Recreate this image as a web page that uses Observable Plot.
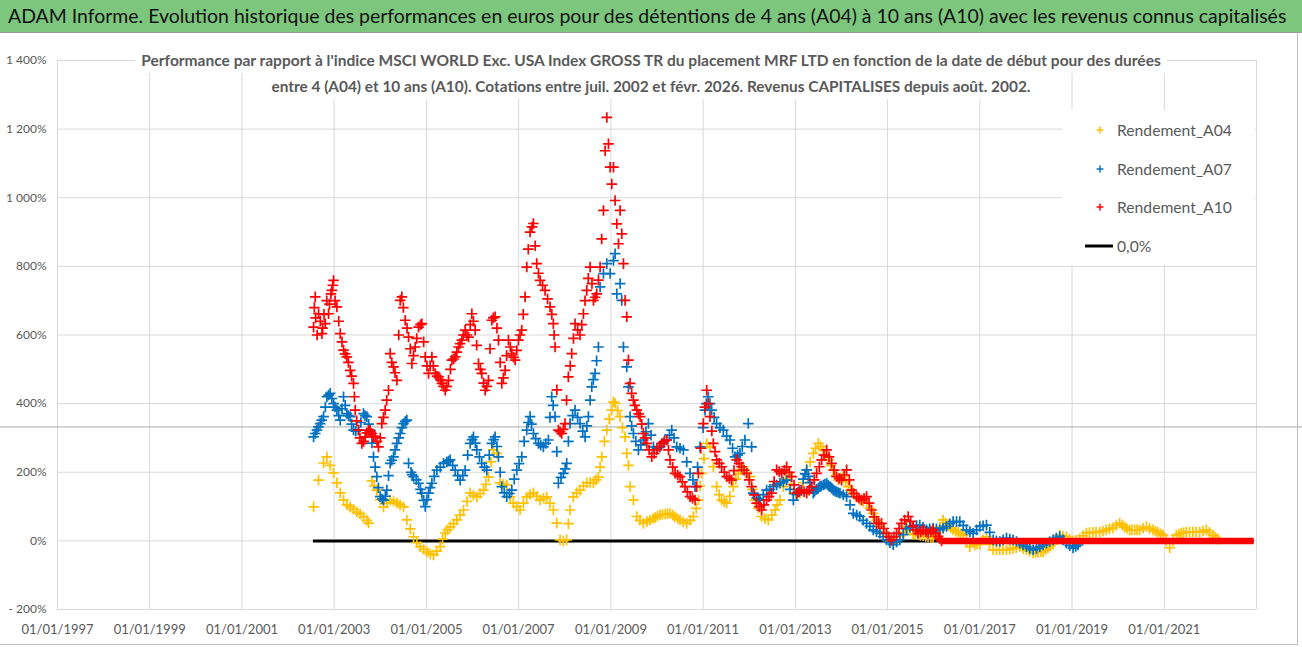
<!DOCTYPE html>
<html><head><meta charset="utf-8">
<script src="https://cdn.jsdelivr.net/npm/d3@7"></script>
<script src="https://cdn.jsdelivr.net/npm/@observablehq/plot@0.6"></script>
<style>
body{margin:0;background:#fff;font-family:Lato,"Open Sans",sans-serif;}
#wrap{position:relative;width:1302px;height:647px;overflow:hidden;background:#fff;}
#title{box-sizing:border-box;height:33px;background:#7DC67E;border-bottom:1px solid #9a9a9a;line-height:32px;padding-left:8px;color:#111;white-space:nowrap;}
#title span{font-size:20px;}
#frame{position:absolute;left:0;top:33px;width:1297px;height:611px;border-right:1px solid #bfbfbf;border-bottom:1px solid #bfbfbf;pointer-events:none;}
#sub{position:absolute;top:47px;left:0;width:1302px;text-align:center;}
#sub span{display:inline-block;background:#fff;color:#595959;font-weight:bold;font-size:16px;line-height:25px;padding:0 6px;white-space:nowrap;}
#legend{position:absolute;left:1062px;top:110px;width:193px;height:155px;background:#fff;}
.li{position:absolute;left:0;height:30px;width:193px;}
.li .tx{position:absolute;left:55px;top:0;font-size:18px;line-height:30px;color:#595959;white-space:nowrap;}
</style></head>
<body>
<div id="wrap">
  <div id="title"><span></span></div>
  <div id="chart"></div>
  <div id="sub"></div>
  <div id="legend"></div>
  <div id="frame"></div>
</div>
<script>
const titleText = "ADAM Informe. Evolution historique des performances en euros pour des détentions de 4 ans (A04) à 10 ans (A10) avec les revenus connus capitalisés";
const subtitleLines = [
  "Performance par rapport à l'indice MSCI WORLD Exc. USA Index GROSS TR  du placement MRF LTD en fonction de la date de début pour des durées",
  "entre 4 (A04) et 10 ans (A10).  Cotations entre juil. 2002 et févr. 2026. Revenus CAPITALISES depuis août. 2002."
];
const seriesNames = ["Rendement_A04", "Rendement_A07", "Rendement_A10"];
const seriesColors = ["#FFC000", "#0070C0", "#FF0000"];
const zeroLabel = "0,0%";
const yTicks = [-200, 0, 200, 400, 600, 800, 1000, 1200, 1400];
const xTickYears = [1997, 1999, 2001, 2003, 2005, 2007, 2009, 2011, 2013, 2015, 2017, 2019, 2021];
const xDomainYears = [1997, 2023];
const strayLine = [332];
// [start date (decimal year), performance %] (scatter, order irrelevant)
const a04 = [[2002.554,99],[2002.662,177],[2002.771,227],[2002.843,245],[2002.915,220],[2002.987,198],[2003.060,169],[2003.132,140],[2003.204,119],[2003.276,105],[2003.348,99],[2003.420,92],[2003.493,84],[2003.565,78],[2003.637,70],[2003.710,60],[2003.746,52],[2003.818,175],[2003.870,160],[2003.926,148],[2004.000,120],[2004.071,99],[2004.143,110],[2004.215,119],[2004.290,115],[2004.360,110],[2004.430,105],[2004.504,99],[2004.576,61],[2004.650,35],[2004.721,12],[2004.795,-5],[2004.865,-17],[2004.940,-25],[2005.010,-32],[2005.080,-38],[2005.154,-41],[2005.225,-30],[2005.298,-17],[2005.350,5],[2005.407,23],[2005.460,32],[2005.515,41],[2005.590,50],[2005.660,61],[2005.730,75],[2005.804,90],[2005.880,115],[2005.949,140],[2006.020,133],[2006.093,128],[2006.165,138],[2006.237,148],[2006.290,165],[2006.346,186],[2006.400,230],[2006.454,265],[2006.527,255],[2006.599,169],[2006.670,165],[2006.743,163],[2006.816,128],[2006.888,110],[2006.960,100],[2007.032,90],[2007.105,110],[2007.177,128],[2007.250,135],[2007.321,140],[2007.395,130],[2007.466,119],[2007.540,124],[2007.610,128],[2007.680,110],[2007.754,90],[2007.827,52],[2007.899,3],[2007.971,0],[2008.043,3],[2008.080,50],[2008.116,90],[2008.188,128],[2008.260,140],[2008.332,148],[2008.405,160],[2008.477,169],[2008.550,170],[2008.621,169],[2008.680,178],[2008.730,186],[2008.766,215],[2008.802,245],[2008.860,290],[2008.910,323],[2008.965,355],[2009.018,381],[2009.055,405],[2009.091,401],[2009.145,380],[2009.199,362],[2009.250,330],[2009.307,303],[2009.344,255],[2009.380,220],[2009.416,158],[2009.489,119],[2009.561,71],[2009.630,60],[2009.705,51],[2009.780,56],[2009.850,61],[2009.960,68],[2010.066,76],[2010.180,78],[2010.283,80],[2010.390,70],[2010.500,61],[2010.570,55],[2010.644,51],[2010.720,60],[2010.789,71],[2010.850,95],[2010.897,119],[2010.935,160],[2010.969,197],[2011.020,240],[2011.078,284],[2011.150,274],[2011.222,216],[2011.294,158],[2011.350,135],[2011.403,119],[2011.511,110],[2011.580,130],[2011.656,158],[2011.710,180],[2011.764,197],[2011.872,216],[2011.950,200],[2012.017,187],[2012.070,150],[2012.125,119],[2012.200,95],[2012.270,71],[2012.340,65],[2012.414,61],[2012.490,75],[2012.558,90],[2012.610,105],[2012.667,119],[2012.739,158],[2012.847,197],[2012.900,165],[2012.956,139],[2013.030,139],[2013.100,139],[2013.170,170],[2013.245,207],[2013.320,230],[2013.389,255],[2013.497,284],[2013.606,265],[2013.714,236],[2013.822,207],[2013.931,178],[2014.039,187],[2014.148,158],[2014.256,139],[2014.330,128],[2014.400,119],[2014.545,110],[2014.620,95],[2014.689,80],[2014.760,60],[2014.834,42],[2014.905,25],[2014.978,13],[2015.050,0],[2015.123,-7],[2015.195,3],[2015.267,13],[2015.340,25],[2015.411,42],[2015.480,30],[2015.555,20],[2015.660,18],[2015.772,15],[2015.880,12],[2015.989,10],[2016.060,25],[2016.133,40],[2016.205,61],[2016.310,45],[2016.422,32],[2016.530,25],[2016.639,17],[2016.710,0],[2016.783,-17],[2016.890,-12],[2017.000,-9],[2017.070,3],[2017.144,12],[2017.210,-10],[2017.289,-26],[2017.430,-26],[2017.578,-26],[2017.720,-22],[2017.867,-17],[2018.010,-26],[2018.156,-35],[2018.260,-33],[2018.372,-32],[2018.480,-20],[2018.589,-9],[2018.660,5],[2018.733,17],[2018.800,14],[2018.878,12],[2018.950,5],[2019.022,0],[2019.090,2],[2019.167,5],[2019.240,15],[2019.311,23],[2019.450,25],[2019.600,26],[2019.740,32],[2019.889,38],[2019.960,45],[2020.033,52],[2020.140,40],[2020.250,32],[2020.360,32],[2020.467,32],[2020.540,37],[2020.611,41],[2020.680,36],[2020.756,32],[2020.860,25],[2020.972,17],[2021.040,0],[2021.117,-20],[2021.190,0],[2021.261,17],[2021.370,22],[2021.478,26],[2021.620,26],[2021.767,26],[2021.840,29],[2021.911,32],[2021.980,25],[2022.056,17],[2022.110,10],[2022.164,5],
  [2009.91,65],[2010.01,72],[2010.12,77],[2010.23,79],[2010.34,75],[2010.45,65],[2011.46,114],[2011.82,207],[2012.79,180],[2013.44,270],[2013.55,275],[2013.66,250],[2013.77,220],[2013.88,190],[2013.99,183],[2014.09,172],[2014.20,148],[2014.47,115],[2015.60,19],[2015.71,16],[2015.83,13],[2015.94,11],[2016.26,53],[2016.37,38],[2016.48,28],[2016.58,21],[2016.94,-10],[2017.36,-26],[2017.50,-26],[2017.65,-24],[2017.79,-20],[2017.94,-22],[2018.08,-30],[2018.21,-34],[2018.32,-32],[2018.43,-26],[2018.53,-15],[2019.38,24],[2019.52,25],[2019.67,29],[2019.81,35],[2020.09,46],[2020.19,36],[2020.30,32],[2020.41,32],[2020.81,28],[2020.92,21],[2021.32,20],[2021.42,24],[2021.55,26],[2021.69,26]];
const a07 = [[2002.554,303],[2002.626,323],[2002.698,342],[2002.771,362],[2002.843,420],[2002.915,430],[2002.987,400],[2003.060,381],[2003.132,352],[2003.204,420],[2003.276,371],[2003.348,362],[2003.421,323],[2003.529,323],[2003.637,371],[2003.710,362],[2003.782,323],[2003.854,245],[2003.926,187],[2003.999,129],[2004.071,119],[2004.143,148],[2004.215,226],[2004.288,245],[2004.360,284],[2004.432,313],[2004.504,342],[2004.576,352],[2004.613,226],[2004.667,200],[2004.721,187],[2004.829,168],[2004.901,139],[2004.974,100],[2005.046,139],[2005.118,168],[2005.226,206],[2005.300,215],[2005.371,226],[2005.443,230],[2005.515,236],[2005.624,206],[2005.732,177],[2005.840,206],[2005.895,250],[2005.949,284],[2006.021,303],[2006.093,265],[2006.201,226],[2006.310,206],[2006.364,250],[2006.418,284],[2006.490,303],[2006.563,245],[2006.600,200],[2006.635,158],[2006.743,129],[2006.852,148],[2006.905,180],[2006.960,206],[2007.068,245],[2007.120,290],[2007.177,323],[2007.249,362],[2007.321,313],[2007.429,284],[2007.538,274],[2007.646,294],[2007.718,420],[2007.791,362],[2007.863,168],[2007.920,185],[2007.971,197],[2008.043,226],[2008.080,290],[2008.116,342],[2008.224,381],[2008.332,342],[2008.441,303],[2008.513,362],[2008.585,449],[2008.657,488],[2008.730,565],[2008.766,740],[2008.839,779],[2008.911,808],[2008.983,779],[2009.055,817],[2009.091,837],[2009.128,720],[2009.200,750],[2009.236,701],[2009.272,565],[2009.344,507],[2009.380,449],[2009.416,362],[2009.489,313],[2009.597,265],[2009.705,294],[2009.814,342],[2009.922,274],[2010.000,270],[2010.066,274],[2010.140,285],[2010.211,294],[2010.319,323],[2010.428,274],[2010.500,270],[2010.572,265],[2010.645,230],[2010.717,197],[2010.825,158],[2010.880,215],[2010.933,274],[2011.000,330],[2011.042,381],[2011.114,420],[2011.186,381],[2011.294,342],[2011.366,330],[2011.439,323],[2011.511,305],[2011.583,294],[2011.692,245],[2011.800,255],[2011.908,294],[2011.981,342],[2012.053,274],[2012.089,139],[2012.160,125],[2012.233,119],[2012.305,135],[2012.378,148],[2012.450,150],[2012.522,158],[2012.595,163],[2012.667,168],[2012.740,172],[2012.811,177],[2012.885,150],[2012.956,119],[2013.028,135],[2013.100,148],[2013.170,180],[2013.245,207],[2013.315,170],[2013.389,139],[2013.460,150],[2013.534,158],[2013.605,163],[2013.678,168],[2013.750,158],[2013.822,148],[2013.895,143],[2013.967,139],[2014.040,134],[2014.111,129],[2014.185,105],[2014.256,80],[2014.330,75],[2014.400,71],[2014.470,60],[2014.545,51],[2014.617,42],[2014.689,32],[2014.760,27],[2014.834,22],[2014.905,12],[2014.978,3],[2015.050,-5],[2015.123,-11],[2015.195,-3],[2015.267,3],[2015.340,18],[2015.411,35],[2015.483,40],[2015.555,42],[2015.630,45],[2015.700,46],[2015.770,40],[2015.844,32],[2015.915,35],[2015.989,37],[2016.060,35],[2016.133,32],[2016.205,37],[2016.277,42],[2016.350,50],[2016.422,56],[2016.495,56],[2016.566,56],[2016.640,45],[2016.711,32],[2016.785,27],[2016.855,22],[2016.930,32],[2017.000,42],[2017.070,44],[2017.144,46],[2017.215,25],[2017.289,3],[2017.360,0],[2017.433,-2],[2017.505,3],[2017.578,8],[2017.650,5],[2017.722,3],[2017.795,-2],[2017.867,-7],[2017.940,-12],[2018.011,-17],[2018.085,-22],[2018.156,-26],[2018.230,-22],[2018.300,-17],[2018.372,-12],[2018.444,-7],[2018.515,-2],[2018.589,3],[2018.660,8],[2018.733,13],[2018.805,3],[2018.878,-7],[2018.950,-14],[2019.022,-21],[2019.080,-16],[2019.131,-12],
  [2002.59,313],[2002.66,332],[2002.73,352],[2002.81,390],[2002.88,425],[2002.95,415],[2003.02,390],[2003.10,365],[2003.17,385],[2003.24,395],[2003.31,365],[2003.38,340],[2003.47,320],[2003.58,345],[2003.67,365],[2003.75,340],[2003.82,285],[2003.89,215],[2003.96,155],[2004.04,122],[2004.11,130],[2004.18,190],[2004.25,235],[2004.32,265],[2004.40,300],[2004.47,330],[2004.54,348],[2004.69,193],[2004.78,178],[2004.87,150],[2004.94,118],[2005.01,120],[2005.08,155],[2005.17,188],[2005.48,233],[2005.57,220],[2005.68,190],[2005.79,190],[2005.99,295],[2006.06,285],[2006.15,245],[2006.26,215],[2006.46,295],[2006.53,275],[2006.69,140],[2006.80,138],[2007.01,225],[2007.21,345],[2007.28,340],[2007.37,298],[2007.48,279],[2007.59,284],[2007.68,360],[2007.75,395],[2007.83,260],[2008.01,210],[2008.17,365],[2008.28,360],[2008.39,320],[2008.48,335],[2008.55,410],[2008.62,470],[2008.69,525],
  [2009.45,335],[2009.54,290],[2009.65,280],[2009.76,318],[2009.87,308],[2010.27,308],[2010.37,300],[2010.78,178],[2011.07,400],[2011.15,400],[2011.24,360],[2011.64,270],[2011.75,250],[2011.85,275],[2012.20,122],[2013.06,142],[2013.21,195],[2013.28,188],[2013.35,155],[2013.42,145],[2013.50,155],[2013.56,160],[2013.64,165],[2013.71,163],[2013.79,153],[2013.86,145],[2013.93,141]];
const a10 = [[2002.554,623],[2002.590,711],[2002.662,662],[2002.735,604],[2002.807,633],[2002.879,662],[2002.951,730],[2002.987,759],[2003.060,682],[2003.132,604],[2003.204,556],[2003.276,536],[2003.348,497],[2003.421,459],[2003.457,381],[2003.529,323],[2003.601,284],[2003.673,303],[2003.746,323],[2003.818,313],[2003.890,303],[2003.962,274],[2004.035,342],[2004.107,381],[2004.179,439],[2004.215,546],[2004.288,507],[2004.360,468],[2004.432,701],[2004.468,711],[2004.540,643],[2004.613,594],[2004.685,517],[2004.757,565],[2004.829,623],[2004.901,633],[2004.974,536],[2005.046,488],[2005.118,536],[2005.190,488],[2005.263,478],[2005.335,459],[2005.407,439],[2005.479,468],[2005.552,527],[2005.624,536],[2005.696,565],[2005.768,585],[2005.840,614],[2005.913,594],[2005.985,662],[2006.057,614],[2006.129,517],[2006.201,488],[2006.274,439],[2006.346,468],[2006.418,643],[2006.490,653],[2006.563,585],[2006.635,459],[2006.707,497],[2006.779,585],[2006.852,546],[2006.924,527],[2006.996,585],[2007.068,614],[2007.140,711],[2007.177,798],[2007.249,900],[2007.321,925],[2007.393,808],[2007.466,759],[2007.520,745],[2007.574,730],[2007.628,705],[2007.682,682],[2007.754,633],[2007.791,565],[2007.863,323],[2007.935,313],[2008.007,342],[2008.079,478],[2008.152,546],[2008.224,633],[2008.332,600],[2008.405,662],[2008.477,730],[2008.550,798],[2008.622,701],[2008.694,720],[2008.766,798],[2008.839,963],[2008.875,1137],[2008.911,1234],[2008.947,1157],[2008.983,1089],[2009.019,1040],[2009.055,1089],[2009.091,992],[2009.128,924],[2009.164,866],[2009.200,963],[2009.236,895],[2009.272,808],[2009.308,701],[2009.344,653],[2009.380,527],[2009.416,459],[2009.489,410],[2009.561,381],[2009.633,362],[2009.705,313],[2009.778,284],[2009.886,245],[2009.994,265],[2010.103,284],[2010.211,294],[2010.283,236],[2010.392,197],[2010.500,187],[2010.608,158],[2010.717,129],[2010.825,119],[2010.897,197],[2011.006,342],[2011.078,439],[2011.150,362],[2011.222,284],[2011.294,236],[2011.403,216],[2011.511,187],[2011.620,177],[2011.728,236],[2011.836,216],[2011.945,197],[2012.053,158],[2012.161,110],[2012.270,90],[2012.378,119],[2012.486,139],[2012.595,207],[2012.703,197],[2012.811,216],[2012.920,187],[2013.028,139],[2013.136,148],[2013.245,139],[2013.353,158],[2013.461,197],[2013.570,236],[2013.678,265],[2013.786,226],[2013.895,187],[2014.003,177],[2014.111,207],[2014.220,148],[2014.328,129],[2014.436,119],[2014.545,129],[2014.653,90],[2014.761,51],[2014.870,51],[2014.978,22],[2015.086,3],[2015.195,22],[2015.303,51],[2015.448,71],[2015.555,42],[2015.661,22],[2015.772,32],[2015.880,22],[2015.989,32],[2016.097,13],[2016.170,0],
  [2002.57,680],[2002.60,650],[2002.63,600],[2002.70,640],[2002.75,620],[2002.78,660],[2002.84,700],[2002.90,690],[2002.93,720],[2002.97,745],[2003.02,700],[2003.10,640],[2003.17,580],[2003.24,545],[2003.31,520],[2003.38,480],[2003.44,420],[2003.49,350],[2003.56,300],[2003.64,290],[2003.71,315],[2003.78,320],[2003.85,305],[2003.93,290],[2004.00,300],[2004.07,360],[2004.14,410],[2004.25,520],[2004.32,490],[2004.40,600],[2004.50,680],[2004.58,620],[2004.65,560],[2004.72,540],[2004.79,590],[2004.87,630],[2004.94,580],[2005.01,510],[2005.08,510],[2005.15,510],[2005.23,480],[2005.30,470],[2005.37,450],[2005.44,450],[2005.52,500],[2005.59,530],[2005.66,550],[2005.73,575],[2005.80,600],[2005.88,600],[2005.95,630],[2006.02,640],[2006.09,570],[2006.17,500],[2006.24,460],[2006.31,450],[2006.38,560],[2006.45,650],[2006.53,620],[2006.60,520],[2006.67,475],[2006.74,540],[2006.82,565],[2006.89,535],[2006.96,555],[2007.03,600],[2007.10,660],[2007.21,850],[2007.29,915],[2007.36,860],[2007.43,780],[2007.72,660],[2007.77,600],[2007.83,440],[2007.90,318],[2007.97,325],[2008.04,410],[2008.12,510],[2008.19,590],[2008.28,615],[2008.37,630],[2008.44,700],[2008.51,765],[2008.59,750],[2008.66,710],[2008.73,760],[2008.80,880],
  [2009.45,430],[2009.52,395],[2009.60,370],[2009.67,340],[2009.74,300],[2009.83,265],[2009.94,255],[2010.05,275],[2010.16,290],[2010.25,265],[2010.34,215],[2010.45,192],[2010.55,172],[2010.66,143],[2010.77,124],[2010.86,158],[2010.95,270],[2011.04,390],[2011.11,400],[2011.19,320],[2011.26,260],[2011.35,226],[2011.46,200],[2011.57,182],[2011.67,205],[2011.78,226],[2011.89,206],[2012.00,178],[2012.11,134],[2012.22,100],[2012.32,105],[2012.43,129],[2012.54,173],[2012.65,202],[2012.76,206],[2012.87,200],[2012.97,163],[2013.08,143],[2013.19,143],[2013.30,148],[2013.41,178],[2013.52,216],[2013.62,250],[2013.73,245],[2013.84,206],[2013.95,182],[2014.06,192],[2014.17,178],[2014.27,138],[2014.38,124],[2014.49,124],[2014.60,110],[2014.71,70],[2014.81,51],[2014.92,36],[2015.03,12],[2015.14,12],[2015.25,36],[2015.37,61],[2015.50,57],[2015.61,32],[2015.72,27],[2015.83,27],[2015.94,27],[2016.04,22],[2016.13,6]];
// A10 stays at 0 for start dates with less than 10 years of history
const a10ZeroTail = [[2016.17, 2022.95]];
const zeroLine = [[2002.55, 2022.95]];

function yr(d) {
  const y = Math.floor(d);
  const s = Date.UTC(y, 0, 1), e = Date.UTC(y + 1, 0, 1);
  return new Date(s + (d - y) * (e - s));
}
const fr = d3.formatLocale({decimal: ",", thousands: "\u00a0", grouping: [3], currency: ["", "€"]});
const fmtInt = fr.format(",d");
const yFmt = v => v < 0 ? "- " + fmtInt(-v) + "%" : fmtInt(v) + "%";
const xFmt = d3.utcFormat("%d/%m/%Y");

const toRows = (arr, name) => arr.map(([t, v]) => ({date: yr(t), value: v, name}));
const seriesData = [a04, a07, a10].map((arr, i) => toRows(arr, seriesNames[i]));
const xTicks = xTickYears.map(y => yr(y));
const xGrid = [...xTickYears, xDomainYears[1]].map(y => yr(y));
const FONT = 'Lato,"Open Sans",sans-serif';

const chart = Plot.plot({
  width: 1302, height: 614,
  marginTop: 27, marginBottom: 38, marginLeft: 57, marginRight: 46,
  style: {fontFamily: FONT, background: "#fff", overflow: "hidden"},
  x: {type: "utc", domain: xDomainYears.map(yr)},
  y: {domain: [-200, 1400]},
  marks: [
    Plot.ruleX(xGrid, {stroke: "#d9d9d9", strokeWidth: 1}),
    Plot.ruleY(yTicks, {stroke: "#d9d9d9", strokeWidth: 1}),
    Plot.ruleY(strayLine, {x1: () => yr(1990), x2: () => yr(2030), stroke: "#ababab", strokeWidth: 1}),
    Plot.ruleY(zeroLine, {x1: d => yr(d[0]), x2: d => yr(d[1]), y: () => 0, stroke: "#000", strokeWidth: 3}),
    ...seriesData.map((rows, i) =>
      Plot.dot(rows, {x: "date", y: "value", symbol: "plus", r: 3.5, stroke: seriesColors[i], strokeWidth: 1.7})
    ),
    Plot.ruleY(a10ZeroTail, {x1: d => yr(d[0]), x2: d => yr(d[1]), y: () => 0, stroke: seriesColors[2], strokeWidth: 6.5}),
    Plot.axisY(yTicks, {label: null, tickSize: 0, tickPadding: 11, tickFormat: yFmt, fontSize: 12, fill: "#595959"}),
    Plot.axisX(xTicks, {label: null, tickSize: 0, tickPadding: 15, tickFormat: xFmt, fontSize: 13, fill: "#595959"})
  ]
});
document.getElementById("chart").appendChild(chart);

// fit a text element's font size so its width matches the reference width
function fit(el, target) {
  const fs = parseFloat(getComputedStyle(el).fontSize);
  const w = el.getBoundingClientRect().width;
  if (w > 0) el.style.fontSize = (fs * target / w) + "px";
}
const tEl = document.querySelector("#title span");
tEl.textContent = titleText;
fit(tEl, 1279);

const sub = document.getElementById("sub");
const subWidths = [1020, 760];
subtitleLines.forEach((t, i) => {
  const s = document.createElement("span");
  const inner = document.createElement("span");
  inner.style.padding = "0"; inner.style.fontSize = "16px";
  inner.textContent = t;
  s.appendChild(inner);
  sub.appendChild(s); sub.appendChild(document.createElement("br"));
  fit(inner, subWidths[i]);
});

const legend = document.getElementById("legend");
const items = seriesNames.map((n, i) => ({label: n, color: seriesColors[i], kind: "plus"})).concat([{label: zeroLabel, color: "#000", kind: "line"}]);
let legendFs = null;
items.forEach((it, i) => {
  const d = document.createElement("div");
  d.className = "li";
  d.style.top = (5 + i * 38.5) + "px";
  const mk = it.kind === "plus"
    ? `<svg style="position:absolute;left:32px;top:9px" width="12" height="12"><path d="M6,2.6V9.4M2.6,6H9.4" stroke="${it.color}" stroke-width="1.5"/></svg>`
    : `<svg style="position:absolute;left:22px;top:13px" width="30" height="4"><path d="M1,2H29" stroke="${it.color}" stroke-width="3"/></svg>`;
  d.innerHTML = mk + `<span class="tx">${it.label}</span>`;
  legend.appendChild(d);
  const tx = d.querySelector(".tx");
  if (i === 0) { fit(tx, 115); legendFs = tx.style.fontSize; } else tx.style.fontSize = legendFs;
});
</script>
</body></html>
